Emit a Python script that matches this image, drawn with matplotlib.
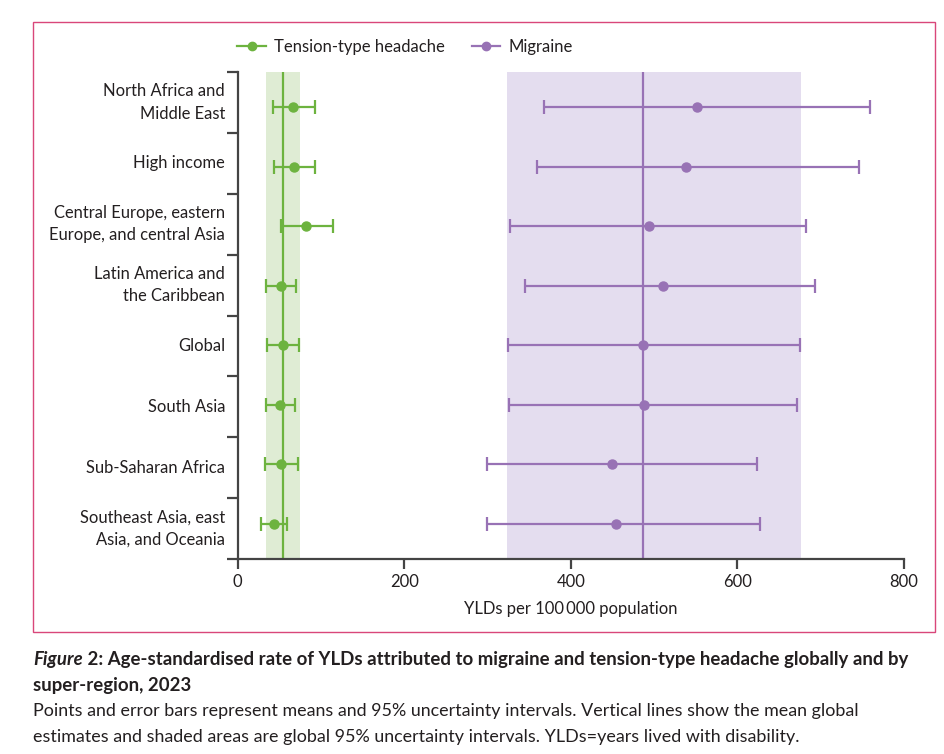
import matplotlib
matplotlib.use("Agg")
import matplotlib.pyplot as plt
from matplotlib.lines import Line2D
from matplotlib.patches import Rectangle
from matplotlib.text import Annotation

plt.rcParams["font.family"] = ["Lato", "DejaVu Sans"]

regions = [
    "North Africa and\nMiddle East",
    "High income",
    "Central Europe, eastern\nEurope, and central Asia",
    "Latin America and\nthe Caribbean",
    "Global",
    "South Asia",
    "Sub-Saharan Africa",
    "Southeast Asia, east\nAsia, and Oceania",
]

tth_mean = [66.6, 67.2, 82.4, 52.1, 54.4, 50.8, 52.0, 44.0]
tth_lower = [42.4, 43.6, 52.0, 33.7, 35.2, 34.0, 32.8, 28.0]
tth_upper = [92.8, 92.8, 114.4, 70.4, 73.6, 68.8, 72.0, 59.2]

mig_mean = [551.8, 538.2, 493.4, 510.6, 487.0, 487.4, 449.7, 454.5]
mig_lower = [367.7, 359.3, 326.9, 344.9, 324.4, 325.7, 299.3, 299.3]
mig_upper = [759.0, 745.9, 682.2, 693.0, 675.0, 671.5, 623.4, 627.0]

# global mean, lower, upper
tth_global = (54.4, 34.0, 75.2)
mig_global = (486.6, 323.3, 675.9)

x_ticks = [0, 200, 400, 600, 800]

GREEN = "#6db33f"
GREEN_BAND = "#dfecd4"
PURPLE = "#9872b5"
PURPLE_BAND = "#e4ddef"
AXIS = "#444444"
TEXT = "#231f20"

fig = plt.figure(figsize=(9.45, 7.54), dpi=100)
ax = fig.add_axes([0.2515, 0.2586, 0.7051, 0.6459])

ax.axvspan(tth_global[1], tth_global[2], color=GREEN_BAND, lw=0, zorder=0)
ax.axvspan(mig_global[1], mig_global[2], color=PURPLE_BAND, lw=0, zorder=0)
ax.axvline(tth_global[0], color=GREEN, lw=1.6, zorder=1)
ax.axvline(mig_global[0], color=PURPLE, lw=1.6, zorder=1)

n = len(regions)
# points sit on a slightly tighter grid than the label bands
point_y = [0.58 + i * (n - 1.16) / (n - 1) for i in range(n)]
label_y = [i + 0.5 for i in range(n)]

for means, lows, highs, col in [
    (tth_mean, tth_lower, tth_upper, GREEN),
    (mig_mean, mig_lower, mig_upper, PURPLE),
]:
    err = [[m - lo for m, lo in zip(means, lows)],
           [hi - m for m, hi in zip(means, highs)]]
    ax.errorbar(means, point_y, xerr=err, fmt="o", color=col, ms=6.5,
                elinewidth=1.6, capsize=5, capthick=1.6, zorder=3)

ax.set_xlim(0, 800)
ax.set_ylim(n, 0)
ax.set_xticks(x_ticks)
ax.set_xticklabels([str(t) for t in x_ticks])
ax.set_yticks(range(n + 1))
ax.set_yticklabels([])
for y, name in zip(label_y, regions):
    ax.text(-0.019, 1 - y / n, name, transform=ax.transAxes, ha="right",
            va="center", fontsize=11.9, color=TEXT, linespacing=1.5)

for side in ["top", "right"]:
    ax.spines[side].set_visible(False)
for side in ["left", "bottom"]:
    ax.spines[side].set_color(AXIS)
    ax.spines[side].set_linewidth(1.6)
ax.tick_params(axis="y", length=8, width=1.6, color=AXIS)
ax.tick_params(axis="x", length=7, width=1.6, color=AXIS, labelsize=12,
               labelcolor=TEXT, pad=4)
ax.set_xlabel("YLDs per 100\u2009000 population", fontsize=12, color=TEXT,
              labelpad=8)

handles = [
    Line2D([], [], color=GREEN, marker="o", ms=6, lw=1.6),
    Line2D([], [], color=PURPLE, marker="o", ms=6, lw=1.6),
]
fig.legend(handles, ["Tension-type headache", "Migraine"], loc="center",
           bbox_to_anchor=(405 / 945, 1 - 47 / 754), ncol=2, frameon=False,
           fontsize=12, handlelength=1.7, handletextpad=0.5, columnspacing=1.6,
           labelcolor=TEXT)

# pink frame around the chart panel
fig.patches.append(Rectangle((33 / 945, 1 - 632 / 754), (935 - 33) / 945,
                             (632 - 22) / 754, transform=fig.transFigure,
                             fill=False, edgecolor="#d9467a", lw=1.0))

# caption
cap_x = 33 / 945
t1 = fig.text(cap_x, 1 - 660 / 754, "Figure", fontsize=13.4, fontweight="bold",
              fontstyle="italic", color=TEXT, va="center")
fig.add_artist(Annotation(
    " 2: Age-standardised rate of YLDs attributed to migraine and "
    "tension-type headache globally and by", xy=(1, 0.5), xycoords=t1,
    va="center", fontsize=13.4, fontweight="bold", color=TEXT))
fig.text(cap_x, 1 - 686 / 754, "super-region, 2023", fontsize=13.4,
         fontweight="bold", color=TEXT, va="center")
fig.text(cap_x, 1 - 711 / 754, "Points and error bars represent means and 95% "
         "uncertainty intervals. Vertical lines show the mean global",
         fontsize=12.85, color=TEXT, va="center")
fig.text(cap_x, 1 - 737 / 754, "estimates and shaded areas are global 95% "
         "uncertainty intervals. YLDs=years lived with disability.",
         fontsize=12.85, color=TEXT, va="center")

fig.savefig("out.png", dpi=100, facecolor="white")
